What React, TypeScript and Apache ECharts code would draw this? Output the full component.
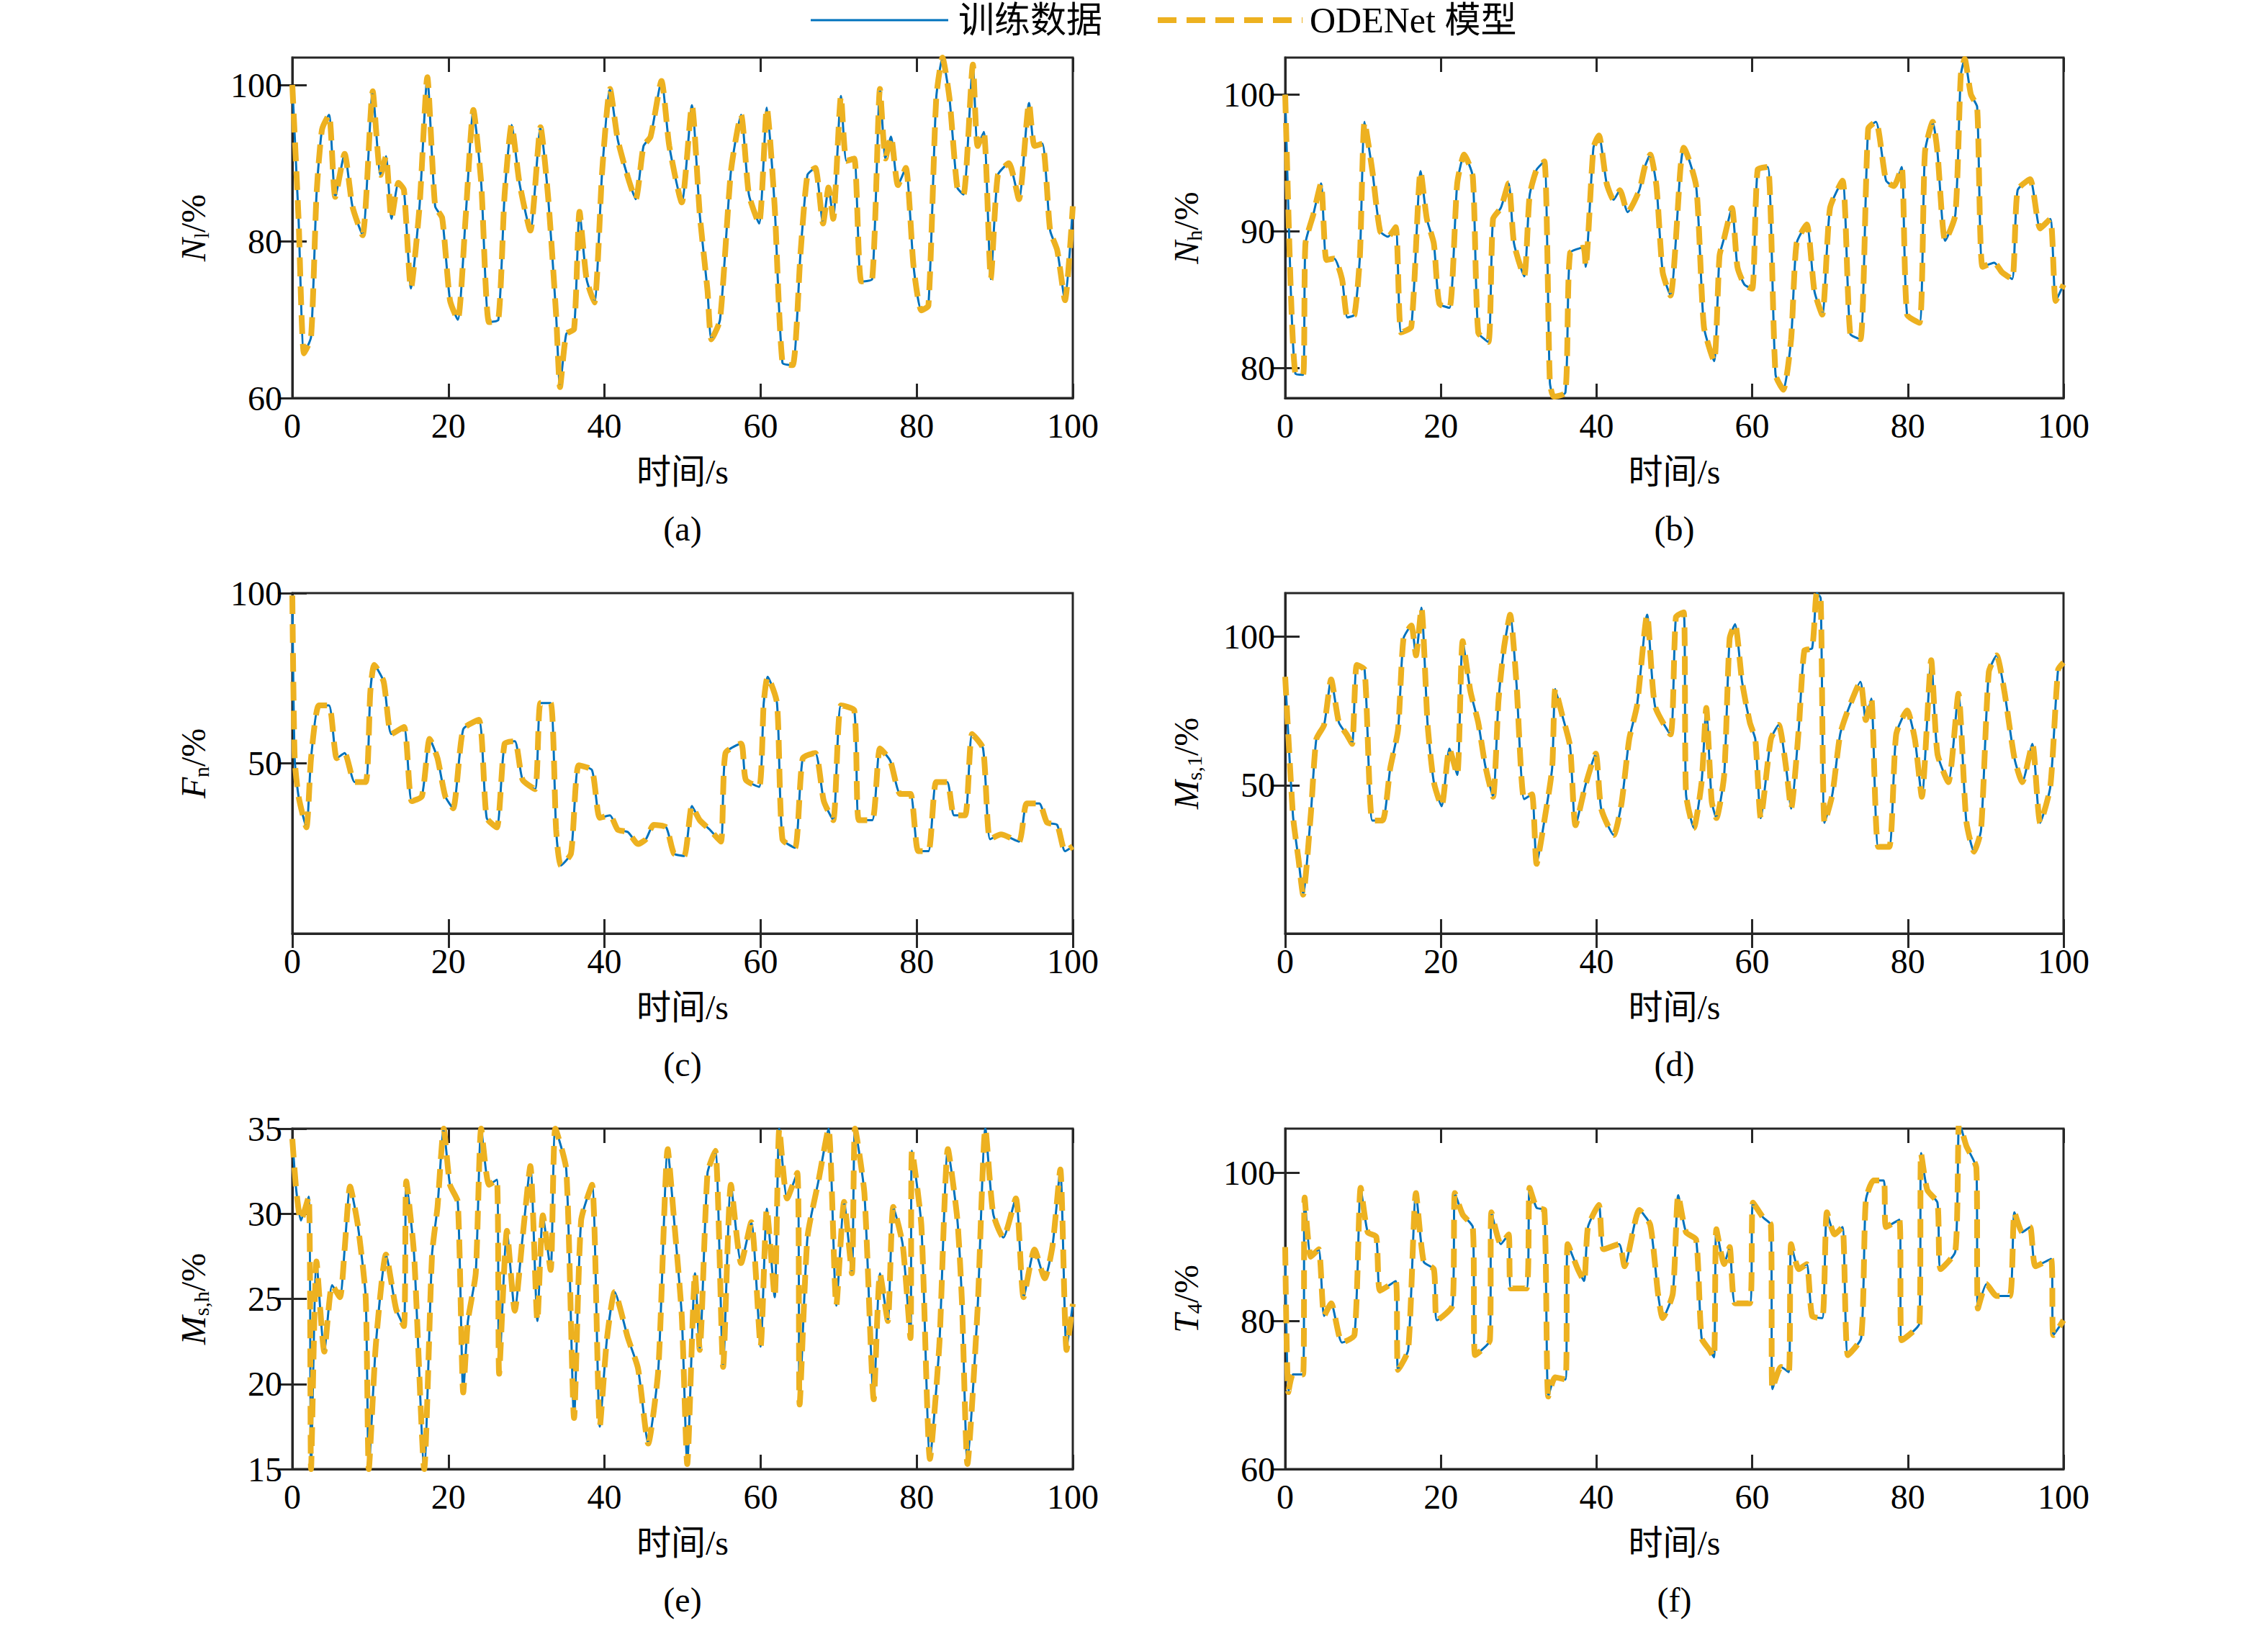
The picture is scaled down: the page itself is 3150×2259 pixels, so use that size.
import React, { useEffect, useRef } from 'react';
import * as echarts from 'echarts';

// N_l
const tA = [0,0.8,1.5,2.4,3.1,3.8,4.7,5.5,6.7,7.7,9,10.3,11.3,12,12.7,13.6,14.3,15.2,16.3,17.3,18.3,19.2,20.2,21.2,22.2,23.2,24.2,25.2,26.4,27.2,28.1,29.1,30.5,31.8,32.8,33.8,34.3,35.1,36.1,36.8,37.7,38.7,39.7,40.7,41.7,43,44,45,45.9,47.3,48.3,49.9,51.2,52.2,53.2,53.7,54.8,56.2,57.5,58.5,59.8,60.8,61.8,62.8,64.1,65.1,66,67,68,68.7,69.3,70.3,71,72,72.9,74.3,75.3,76,76.7,77.6,78.6,79.6,80.6,81.5,82.5,83.3,84.2,85.2,86,87.2,87.8,88.6,89.5,90.4,91.8,93.1,94.4,95.1,96.1,97.1,98,99,100];
const vA = [100,82.9,65.7,67.8,86,94.3,96.2,85.7,91.2,84.5,80.8,99.2,88.5,90.9,82.9,87.5,86.6,74,84.5,101,84.5,83,72.5,70,83,96.8,87.5,69.7,70,86,94.9,87.5,81.4,94.6,85.4,70.6,61.4,68.2,68.8,83.8,75.2,72.2,89,99.5,93,88.2,85.4,92.2,93.4,100.5,92.2,85,97.4,83.5,73.7,67.5,70,89,96.2,86,82.3,97.1,84.5,64.5,64.2,78.3,88.5,89.4,82.3,86.9,82.9,98.6,90.3,90.6,74.9,75.2,99.5,90.6,93.4,87.2,89.4,76.8,71.2,71.8,98.3,103.5,98.3,86.9,86,102.6,92.2,94,75.2,88.5,90,85.4,97.7,92.2,92.5,81.4,78.9,72.5,84.5];

// N_h
const tB = [0,0.7,1.3,2.3,2.6,3.6,4.6,5.3,6.3,7.3,8,8.9,9.6,10.2,11.2,12.2,13.2,14.2,14.9,16.2,17.4,18.2,19.1,19.8,21.1,22.1,23,24.1,24.8,26.1,26.7,27.7,28.7,29.4,30.7,31.4,32.3,33.3,34,34.5,36,36.6,38.3,38.6,39.6,40.3,41.3,42.2,43,44,45.5,46.2,46.9,47.7,48.5,49.5,50.8,51.2,52.8,53.8,55.1,55.8,56.4,57.4,58.1,59,60,60.7,62,63,64,65,65.7,67,68,69,70,71.6,72.6,73.9,74.9,75.9,77.2,78.2,79.2,79.9,81.5,82.2,83.2,83.8,84.8,86.1,86.8,87.3,88.1,88.9,89.6,91.1,92.1,93.4,94.1,95.7,97,98.3,99,100];
const vB = [100,86,79.6,79.5,89.1,91.2,93.5,87.9,88,86.5,83.7,83.9,88.2,98,94.4,90,89.6,90.3,82.6,83,94.4,90.9,89.1,84.7,84.4,93.5,95.6,94,82.6,81.9,90.9,91.7,93.5,89.1,86.7,92.6,94.5,95.1,79,77.9,78.2,88.4,88.8,87.4,96.1,97,93.5,92.3,93,91.4,93,94.7,95.6,93.3,87,85.3,94.7,96.1,93.3,83,80.5,88.2,89.5,91.7,87.4,86.1,85.8,94.5,94.7,79.5,78.4,82.1,89.1,90.5,85.6,83.9,91.7,93.7,82.5,82.1,97.5,98,93.7,93.3,94.7,83.9,83.3,95.8,98,95.8,89.3,91.2,101.4,102.6,100,99.1,87.4,87.7,87,86.5,93,93.8,90.2,90.9,84.9,86.1];

// F_n
const tC = [0,0.3,0.8,1.8,2.4,3.4,4.7,5.7,6.7,8,9.4,10,10.5,11.7,12.7,14.3,15.3,16.6,17.6,18.6,19.6,20.6,21.9,23.9,24.9,26.2,27.2,28.5,29.5,31.1,31.8,33.1,33.8,34.4,35.7,36.7,38.4,39.4,40.7,41.7,43,44.3,45.3,46.3,47.9,48.9,50.2,51.2,52.2,53.5,54.9,55.5,57.5,58.1,59.8,60.4,60.9,62.1,62.8,64.4,65.4,67,68.1,69.3,70.3,72,72.6,74.3,75.3,76.6,77.9,79.2,80.2,81.5,82.5,83.9,84.8,86.2,87.1,88.5,89.4,90.8,93.1,94.1,95.7,96.7,98,99,100];
const vC = [99.3,51.5,40.3,31.2,51.5,67,67,51.5,53,44.5,44.5,71.2,78.9,74,58.6,60.7,38.9,40.3,57.2,51.5,40.3,36.8,60,62.8,34,31.2,55.8,56.5,45.2,42.4,67.7,67.7,30.5,20,23.5,49.4,48,34,34.7,30.5,29.8,26.3,27.7,31.9,31.2,23.5,22.8,37.5,33.3,30.5,27,53,55.8,45.2,43.1,67.7,75.4,67.7,27.7,25.2,51.5,53,38.9,33.3,67,65.6,33.3,33.3,54.4,50.8,41,41,24.2,24.2,44.5,44.5,34.7,34.7,58.6,54.4,27.7,29.1,27,38.2,38.2,32.6,31.9,24.2,25.6];

// M_s,l
const tD = [0,1,1.7,2.3,3.3,4,5,5.9,6.9,7.9,8.6,9.2,10.2,11.2,12.5,13.5,14.5,15.2,16.2,16.8,17.5,18.3,19.1,20.1,21.1,22.1,22.8,23.8,24.8,25.7,26.7,27.4,28.1,28.9,29.7,30.7,31.7,32.3,33.3,34.3,34.7,35.6,36.6,37.3,38.6,39.9,40.6,42.2,43.2,44.2,45.2,46.5,47.5,49.5,50.2,51.2,51.5,52.5,53.5,54.1,54.8,55.4,56.4,57.1,57.8,58.7,59.7,60.4,61.1,62.4,63.4,64.4,65,66,66.7,67.7,68.3,68.8,69.3,70.3,71.3,72.3,73.9,74.6,75.3,76.2,77.6,78.5,79.9,80.9,81.8,83,83.8,85.2,86.5,87.5,88.5,89.4,90.4,91.4,92.4,93.7,94.7,96,97,98.3,99.3,100];
const vD = [86.5,39.7,25.2,13.1,40.5,65.5,70.3,85.6,71.1,67.1,63.9,90.5,88.9,38.1,38.1,55.8,68.7,99.4,103.8,93.7,109.8,70.3,51,42.9,62.3,53.4,98.5,81.6,71.1,56.6,46.1,78.4,96.1,107.4,84.8,45.3,46.9,23.5,38.1,55.8,82.4,73.5,63.1,36.5,50.2,60.6,42.1,33.2,43.7,65.5,76.8,107.4,76.8,67.1,106.6,108.2,46.9,35.6,51,76,44.5,38.9,53.4,99.4,104.2,84.8,71.1,65.5,38.9,65.5,70.3,55,42.1,69.5,95.3,96.1,114.7,113,37.3,46.9,67.1,75.2,84.8,71.9,79.2,29.2,29.2,67.1,75.2,65.5,46.1,92.1,60.6,51,80.8,38.1,27.6,34.8,88.1,93.7,81.6,59,51,63.9,37.3,49.4,88.9,91.3];

// M_s,h
const tE = [0,0.5,1.1,2.1,2.4,3.1,4.1,5.1,6.1,6.7,7.4,8.4,9.4,9.8,10.7,12,13.3,14.3,14.6,15.6,16.9,17.9,18.6,19.4,20.2,21.2,21.9,22.5,23.5,24.2,25.2,26.2,26.5,27.5,28.5,29.5,30.5,31.4,32.1,33.1,33.7,35.1,36.1,37,38.4,39.4,40.3,41.3,43,44.3,45.6,46.9,48.1,48.9,49.9,50.6,51.6,52.2,53.2,54.2,55.2,56.2,57.5,58.8,60,60.8,61.8,62.4,63.4,64.7,65,66,67.4,68.7,69.7,70.7,71.7,72.1,73.3,74.5,75.3,76.3,77,78.2,79.2,79.4,80.6,81.7,82.9,84,85.2,85.8,86.5,87.8,88.8,89.8,91.1,92.7,93.7,95.1,96.4,97.4,98.4,99.2,100];
const vE = [34.4,31.4,29.6,31,15,27.2,21.9,25.8,25.1,27.9,31.6,29.3,25.1,15,22.3,27.6,24.4,23.4,31.9,27.6,15,27.6,30.4,35,31.7,30.7,19.5,23.7,26.5,35,31.7,32,20.6,29,24.3,28.6,32.8,23.7,29.9,26.7,35,32.6,18,29.6,31.7,17.5,22.6,25.4,22.7,20.9,16.5,20.9,33.8,29.7,24,15.3,26.5,22,32.4,33.7,21,31.7,27.1,29.5,22.2,30.3,25.1,35,30.9,32.4,18.8,28.6,31.9,35,24.6,30.7,26.5,35,31.2,19.1,26.5,23.7,30.4,28.2,22.7,33.7,29.3,15.6,22.3,33.8,29.7,24.8,15.3,24.4,35,30,28.6,30.9,25.1,27.9,26.2,28.1,32.6,22,24.7];

// T_4
const tF = [0,0.4,1,2.3,2.5,3.3,4.3,5,5.9,7.3,8.9,9.7,10.6,11.7,12.2,14.2,14.5,15.8,16.8,17.8,19.1,19.5,21.5,21.8,22.8,24.1,24.4,26.3,26.5,27.7,28.7,29,31,31.4,32.3,33.3,33.8,34.7,36,36.3,37.6,38.4,38.9,40.3,40.9,42.9,43.6,45.5,46.9,47.9,48.5,49.8,50.5,51.5,52.8,53.5,54.5,55.1,55.4,56.4,57.1,57.8,59.7,60.1,61.4,62.4,62.6,63.7,64.7,65,66,67,67.7,69,69.6,70.6,71.6,72.3,74,74.6,75.6,76.9,77.2,78.9,79.2,81.5,81.7,82.5,83.8,84.2,86.1,86.6,87.5,88.8,89,90.1,91.4,93.1,93.7,94.7,95.7,96.4,98.4,98.7,100];
const vF = [90,70.4,72.8,72.8,96.7,88.7,89.7,80.7,82.4,77.1,78.1,98,92,91.4,84.1,85.4,73.4,76.1,97.3,88,87,80.1,82.1,97.3,94.4,92.7,75.4,77.4,94.7,90.4,91.7,84.4,84.4,98,95.3,95,69.8,72.4,72.1,90.4,87,85.4,92.7,95.7,89.7,90.4,87.4,95,93,83.7,80.4,83.7,97,92,91,77.7,76.1,75.1,92.4,87.7,90,82.4,82.4,96,94,93,70.8,73.8,73.1,90.4,87,87.7,80.7,80.4,94.7,91.7,92.7,75.4,77.7,96.3,99,99,92.7,93.7,77.4,79.7,102.7,97.7,96,87,89.4,107,103.7,100.7,81.7,85,83.4,83.4,94.7,92,92.7,87.4,88.4,78.1,80.1];

const panels = [
  { t: tA, v: vA, min: 60, max: 103.5, ticks: [60, 80, 100], sym: 'N', sub: 'l', tag: '(a)' },
  { t: tB, v: vB, min: 77.8, max: 102.7, ticks: [80, 90, 100], sym: 'N', sub: 'h', tag: '(b)' },
  { t: tC, v: vC, min: 0, max: 100, ticks: [50, 100], sym: 'F', sub: 'n', tag: '(c)' },
  { t: tD, v: vD, min: 0, max: 114.7, ticks: [50, 100], sym: 'M', sub: 's,1', tag: '(d)' },
  { t: tE, v: vE, min: 15, max: 35, ticks: [15, 20, 25, 30, 35], sym: 'M', sub: 's,h', tag: '(e)' },
  { t: tF, v: vF, min: 60, max: 106, ticks: [60, 80, 100], sym: 'T', sub: '4', tag: '(f)' },
];

const FONT = "'Liberation Serif', 'Noto Sans CJK SC'";
const INK = '#262626';
const BLUE = '#0072BD';
const GOLD = '#EDB120';

const colLeft = [406, 1785];
const colW = [1084, 1081];
const rowTop = [80, 824, 1568];
const rowH = 473;

export default function App() {
  const ref = useRef<HTMLDivElement>(null);

  useEffect(() => {
    if (!ref.current) return;
    const chart = echarts.init(ref.current, undefined, { renderer: 'svg' });

    const grid: any[] = [];
    const xAxis: any[] = [];
    const yAxis: any[] = [];
    const series: any[] = [];
    const graphic: any[] = [];

    panels.forEach((p, i) => {
      const c = i % 2;
      const r = Math.floor(i / 2);
      grid.push({
        left: colLeft[c], top: rowTop[r], width: colW[c], height: rowH,
        show: true, borderColor: INK, borderWidth: 3, backgroundColor: '#fff',
      });
      const tick = { show: true, inside: true, length: 20, lineStyle: { color: INK, width: 3 } };
      xAxis.push({
        type: 'value', gridIndex: i, min: 0, max: 100, interval: 20,
        axisLine: { lineStyle: { color: INK, width: 3 } },
        axisTick: tick,
        splitLine: { show: false },
        axisLabel: { color: '#000', fontSize: 48, fontFamily: FONT, margin: 14 },
        name: '时间/s', nameLocation: 'middle', nameGap: 78,
        nameTextStyle: { color: '#000', fontSize: 48, fontFamily: FONT },
      });
      xAxis.push({
        type: 'value', gridIndex: i, min: 0, max: 100, interval: 20, position: 'top',
        axisLine: { show: false }, axisTick: tick, axisLabel: { show: false }, splitLine: { show: false },
      });
      const yTick = { ...tick, customValues: p.ticks };
      yAxis.push({
        type: 'value', gridIndex: i, min: p.min, max: p.max,
        axisLine: { lineStyle: { color: INK, width: 3 } },
        axisTick: yTick,
        splitLine: { show: false },
        axisLabel: { color: '#000', fontSize: 48, fontFamily: FONT, margin: 14, customValues: p.ticks },
        name: `{i|${p.sym}}{s|${p.sub}}{n|/%}`,
        nameLocation: 'middle', nameGap: 112, nameRotate: 90,
        nameTextStyle: {
          rich: {
            i: { fontSize: 48, fontFamily: FONT, fontStyle: 'italic', color: '#000' },
            s: { fontSize: 30, fontFamily: FONT, color: '#000', padding: [22, 0, 0, 0] },
            n: { fontSize: 48, fontFamily: FONT, color: '#000' },
          },
        },
      });
      yAxis.push({
        type: 'value', gridIndex: i, min: p.min, max: p.max, position: 'right',
        axisLine: { show: false }, axisTick: yTick, axisLabel: { show: false }, splitLine: { show: false },
      });
      const data = p.t.map((t, k) => [t, p.v[k]]);
      series.push({
        name: '训练数据', type: 'line', xAxisIndex: 2 * i, yAxisIndex: 2 * i, data,
        showSymbol: false, smooth: 0.2, lineStyle: { color: BLUE, width: 3 }, z: 2,
      });
      series.push({
        name: 'ODENet 模型', type: 'line', xAxisIndex: 2 * i, yAxisIndex: 2 * i, data,
        showSymbol: false, smooth: 0.2, lineStyle: { color: GOLD, width: 8, type: [26, 14] }, z: 3,
      });
      graphic.push({
        type: 'text', x: colLeft[c] + colW[c] / 2, y: rowTop[r] + rowH + 181,
        style: { text: p.tag, font: `48px ${FONT}`, fill: '#000', align: 'center', verticalAlign: 'middle' },
      });
    });

    graphic.push(
      { type: 'line', shape: { x1: 1126, y1: 28, x2: 1317, y2: 28 }, style: { stroke: BLUE, lineWidth: 3 } },
      { type: 'text', x: 1331, y: 28, style: { text: '训练数据', font: `50px ${FONT}`, fill: '#000', verticalAlign: 'middle' } },
      { type: 'line', shape: { x1: 1608, y1: 28, x2: 1809, y2: 28 }, style: { stroke: GOLD, lineWidth: 8, lineDash: [26, 14] } },
      { type: 'text', x: 1819, y: 28, style: { text: 'ODENet 模型', font: `50px ${FONT}`, fill: '#000', verticalAlign: 'middle' } },
    );

    chart.setOption({ animation: false, backgroundColor: '#fff', grid, xAxis, yAxis, series, graphic });
    return () => chart.dispose();
  }, []);

  return <div ref={ref} style={{ position: 'fixed', left: 0, top: 0, width: 3150, height: 2259, background: '#fff' }} />;
}
